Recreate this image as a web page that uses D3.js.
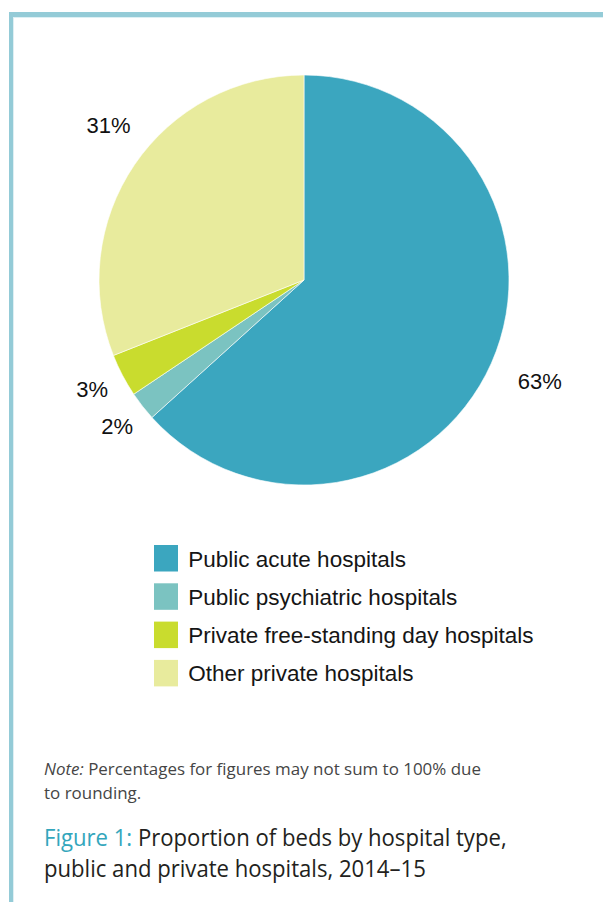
<!DOCTYPE html>
<html>
<head>
<meta charset="utf-8">
<script src="https://cdn.jsdelivr.net/npm/d3@7"></script>
<style>
  html, body { margin: 0; padding: 0; background: #ffffff; }
  svg { display: block; }
</style>
</head>
<body>
<svg id="chart" width="603" height="902"></svg>
<script>
// Hospital types and their share of beds (per cent), 2014–15
const categories = [
  "Public acute hospitals",
  "Public psychiatric hospitals",
  "Private free-standing day hospitals",
  "Other private hospitals"
];
const shares = [63.3, 2.3, 3.4, 31.0];
const colors = ["#3ba6bf", "#7bc3c1", "#c9dc2e", "#e8eb9d"];

// Small nudges for the percentage labels, [dx, dy]
const labelNudge = [[11, 1], [7, -5], [6, -5], [8, -17]];

const noteLines = ["Percentages for figures may not sum to 100% due", "to rounding."];
const titlePrefix = "Figure 1:";
const titleLines = [" Proportion of beds by hospital type,", "public and private hospitals, 2014–15"];

const svg = d3.select("#chart");

// Frame: thick rule along the top and left edges
svg.append("rect").attr("x", 9).attr("y", 12).attr("width", 594).attr("height", 5).attr("fill", "#94cbd7");
svg.append("rect").attr("x", 9).attr("y", 12).attr("width", 4.3).attr("height", 890).attr("fill", "#94cbd7");
svg.append("rect").attr("x", 13.3).attr("y", 17).attr("width", 590).attr("height", 1).attr("fill", "#dcf0f4");

// Pie
const cx = 304, cy = 280, R = 205;
const data = categories.map((c, i) => ({ name: c, value: shares[i], color: colors[i] }));
const pie = d3.pie().value(d => d.value).sort(null);
const arcs = pie(data);
const arc = d3.arc().innerRadius(0).outerRadius(R);
const labelArc = d3.arc().innerRadius(246).outerRadius(246);

const g = svg.append("g").attr("transform", `translate(${cx},${cy})`);
g.selectAll("path.slice")
  .data(arcs)
  .join("path")
  .attr("class", "slice")
  .attr("d", arc)
  .attr("fill", d => d.data.color)
  .attr("stroke", "#ffffff")
  .attr("stroke-width", 0.6);

const pct = d3.format(".0f");
g.selectAll("text.pct")
  .data(arcs)
  .join("text")
  .attr("class", "pct")
  .attr("x", (d, i) => labelArc.centroid(d)[0] + labelNudge[i][0])
  .attr("y", (d, i) => labelArc.centroid(d)[1] + labelNudge[i][1])
  .attr("dy", "0.36em")
  .attr("text-anchor", "middle")
  .attr("font-family", "'Liberation Sans', Arial, sans-serif")
  .attr("font-size", 22)
  .attr("fill", "#111111")
  .text(d => pct(d.data.value) + "%");

// Legend
const legend = svg.append("g").attr("transform", "translate(154,545)");
const rowStep = 38.3;
const rows = legend.selectAll("g.row")
  .data(data)
  .join("g")
  .attr("class", "row")
  .attr("transform", (d, i) => `translate(0,${i * rowStep})`);
rows.append("rect")
  .attr("width", 24).attr("height", 26.5)
  .attr("fill", d => d.color);
rows.append("text")
  .attr("x", 34.3).attr("y", 21.5)
  .attr("font-family", "'Liberation Sans', Arial, sans-serif")
  .attr("font-size", 22.5)
  .attr("fill", "#151515")
  .text(d => d.name);

// Fit a block of lines so its first line spans the given width
function fitBlock(sel, firstWidth) {
  const nodes = sel.nodes();
  const natural = nodes[0].getComputedTextLength();
  const k = firstWidth / natural;
  sel.each(function () {
    const t = d3.select(this);
    const x = +t.attr("data-x"), y = +t.attr("data-y");
    t.attr("transform", `translate(${x},${y}) scale(${k},1)`);
  });
}

// Note
const noteFont = "'Open Sans', 'Noto Sans', sans-serif";
const noteText = svg.append("g").selectAll("text")
  .data(noteLines)
  .join("text")
  .attr("data-x", 44)
  .attr("data-y", (d, i) => 774.5 + i * 24.5)
  .attr("font-family", noteFont)
  .attr("font-size", 17)
  .attr("fill", "#454545");
noteText.each(function (d, i) {
  const t = d3.select(this);
  if (i === 0) {
    t.append("tspan").attr("font-style", "italic").text("Note:");
    t.append("tspan").text(" " + d);
  } else {
    t.text(d);
  }
});
fitBlock(noteText, 437);

// Title
const titleText = svg.append("g").selectAll("text")
  .data(titleLines)
  .join("text")
  .attr("data-x", 44)
  .attr("data-y", (d, i) => 846 + i * 31)
  .attr("font-family", noteFont)
  .attr("font-size", 23)
  .attr("fill", "#231f20");
titleText.each(function (d, i) {
  const t = d3.select(this);
  if (i === 0) {
    t.append("tspan").attr("fill", "#33a6bc").text(titlePrefix);
    t.append("tspan").text(d);
  } else {
    t.text(d);
  }
});
fitBlock(titleText, 463);
</script>
</body>
</html>
